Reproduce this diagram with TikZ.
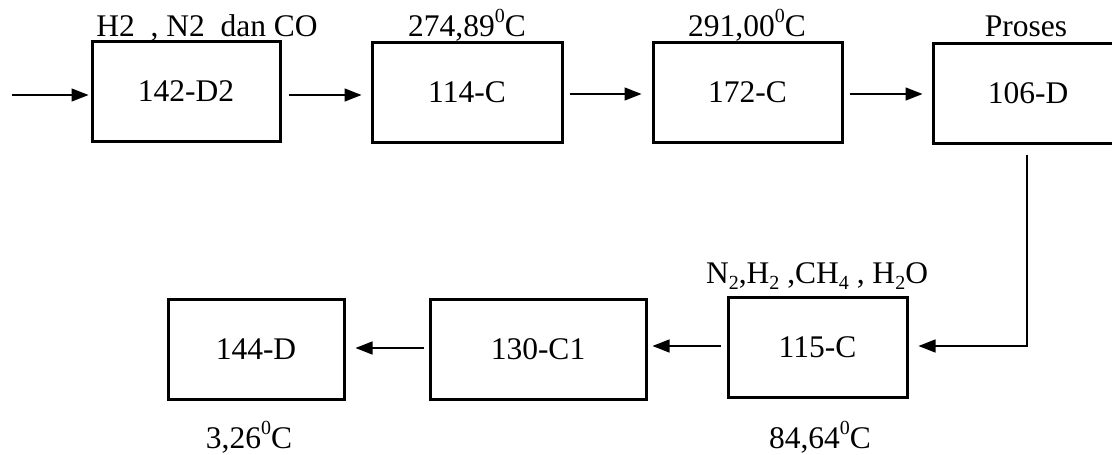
\documentclass[tikz,border=0pt]{standalone}
\usepackage{fontspec}
\setmainfont{Liberation Serif}
\usetikzlibrary{arrows.meta}
\newcommand{\myup}[1]{\raisebox{0.42em}{\fontsize{20}{20}\selectfont #1}}
\newcommand{\mydn}[1]{\raisebox{-0.22em}{\fontsize{20}{20}\selectfont #1}}
\begin{document}
\begin{tikzpicture}[x=1pt,y=-1pt,
  font=\fontsize{31.5}{37}\selectfont,
  unit/.style={draw, line width=3pt, inner sep=0pt, minimum height=100pt},
  arr/.style={line width=1.4pt, -{Triangle[length=17pt,width=13pt]}},
  lbl/.style={anchor=base, inner sep=0pt}]
\useasboundingbox (0,0) rectangle (1112,455);
\clip (0,0) rectangle (1112,455);
\node[unit, minimum width=188pt] (a) at (186,91.5) {142-D2};
\node[unit, minimum width=190pt] (b) at (467,92) {114-C};
\node[unit, minimum width=189pt] (c) at (747.5,92.5) {172-C};
\node[unit, minimum width=190pt] (d) at (1028,93) {106-D};
\node[unit, minimum width=179pt] (e) at (817.5,347) {115-C};
\node[unit, minimum width=216pt] (f) at (538,349) {130-C1};
\node[unit, minimum width=176pt] (g) at (256,349) {144-D};
\coordinate (in) at (12,95);
\node[lbl] (la) at (207,36) {H2 \ , N2 \ dan CO};
\node[lbl] (lb) at (467,36) {274,89\myup{0}C};
\node[lbl] (lc) at (747,36) {291,00\myup{0}C};
\node[lbl] (ld) at (1026,36) {Proses};
\node[lbl] (le) at (817,283) {N\mydn{2},H\mydn{2} ,CH\mydn{4} , H\mydn{2}O};
\node[lbl] (le2) at (820,448) {84,64\myup{0}C};
\node[lbl] (lg) at (249,448) {3,26\myup{0}C};
\draw[arr, shorten >=2pt] (in) -- (in -| a.west);
\draw[arr, shorten <=7pt, shorten >=9pt] (a.east |- in) -- (b.west |- in);
\draw[arr, shorten <=6pt, shorten >=10pt] (b.east |- 0,94) -- (c.west |- 0,94);
\draw[arr, shorten <=6pt, shorten >=9pt] (c.east |- 0,94) -- (d.west |- 0,94);
\draw[arr, shorten <=10pt, shorten >=10pt] (d.south -| 1027,0) |- (e.east |- 0,346);
\draw[arr, shorten <=6pt, shorten >=5pt] (e.west |- 0,346) -- (f.east |- 0,346);
\draw[arr, shorten <=5pt, shorten >=10pt] (f.west |- 0,348) -- (g.east |- 0,348);
\end{tikzpicture}
\end{document}
